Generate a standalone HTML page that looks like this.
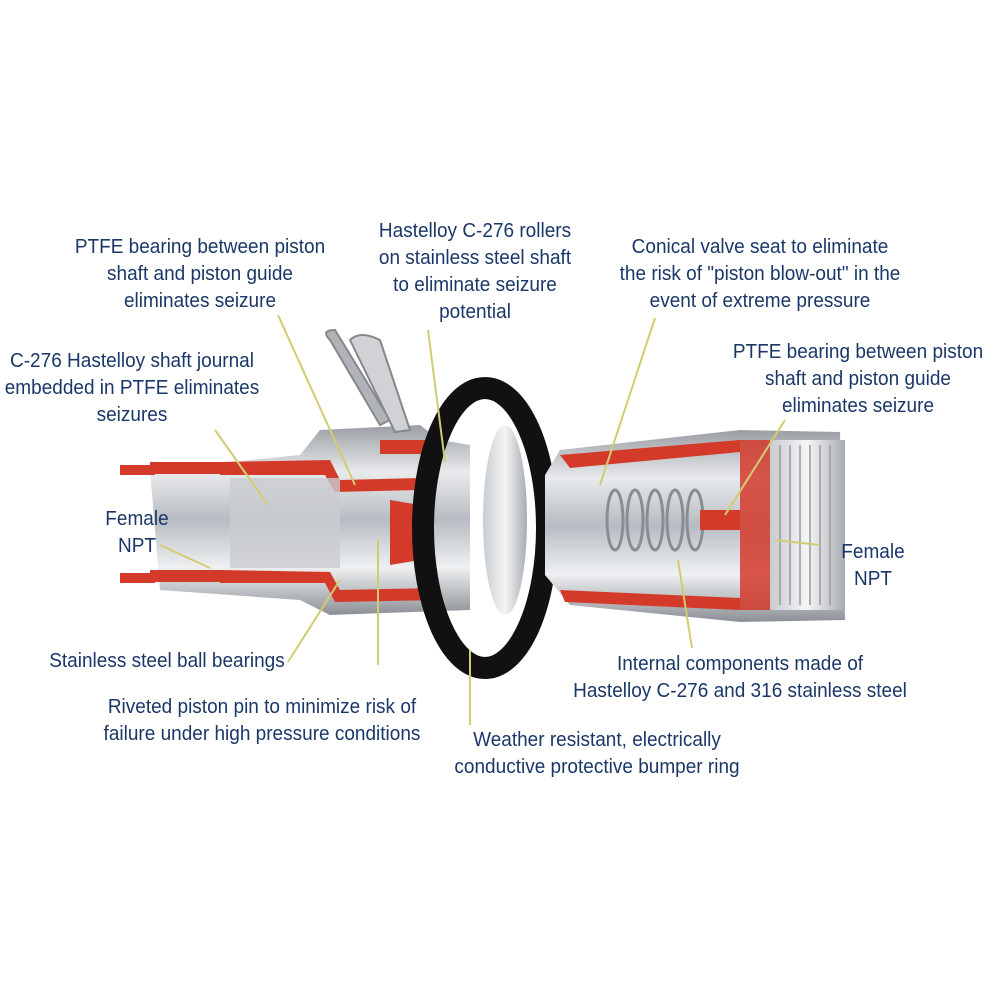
<!DOCTYPE html>
<html><head><meta charset="utf-8"><style>
html,body{margin:0;padding:0;background:#fff;}
#c{position:relative;width:1000px;height:1000px;overflow:hidden;font-family:"Liberation Sans",Arial,sans-serif;}
.t{position:absolute;color:#1b3768;font-size:20px;line-height:27px;text-align:center;white-space:nowrap;transform:scaleX(0.95);}
svg{position:absolute;left:0;top:0;}
</style></head><body><div id="c">
<svg width="1000" height="1000" viewBox="0 0 1000 1000">
<defs>
<linearGradient id="m" x1="0" y1="0" x2="0" y2="1">
<stop offset="0" stop-color="#9a9ea4"/><stop offset="0.25" stop-color="#e8eaec"/><stop offset="0.5" stop-color="#b8bcc2"/><stop offset="0.75" stop-color="#eef0f2"/><stop offset="1" stop-color="#8c9096"/></linearGradient>
<linearGradient id="m2" x1="0" y1="0" x2="1" y2="0">
<stop offset="0" stop-color="#c8ccd0"/><stop offset="0.5" stop-color="#f4f5f6"/><stop offset="1" stop-color="#a8acb2"/></linearGradient>
</defs>
<path d="M150,470 L300,455 L320,430 L420,425 L440,440 L470,445 L470,610 L330,615 L300,600 L160,590 Z" fill="url(#m)"/>
<rect x="150" y="462" width="70" height="12" fill="#d43a2a"/>
<rect x="150" y="570" width="70" height="12" fill="#d43a2a"/>
<path d="M220,462 L330,460 L340,480 L420,478 L420,490 L335,492 L325,475 L220,475Z" fill="#d43a2a"/>
<path d="M220,570 L330,572 L340,590 L440,588 L440,600 L335,602 L325,583 L220,583Z" fill="#d43a2a"/>
<path d="M390,500 L420,505 L420,560 L390,565Z" fill="#d43a2a"/>
<rect x="380" y="440" width="60" height="14" fill="#d43a2a"/>
<rect x="230" y="478" width="110" height="90" fill="#c9ccd0" opacity="0.8"/>
<path d="M330,340 Q320,330 335,330 L390,420 L380,425 Z" fill="#b0b4b8" stroke="#888" stroke-width="2"/>
<path d="M350,340 Q360,330 380,340 L410,430 L395,432 Z" fill="#d0d2d6" stroke="#888" stroke-width="2"/>
<rect x="120" y="465" width="35" height="10" fill="#d43a2a"/>
<rect x="120" y="573" width="35" height="10" fill="#d43a2a"/>
<ellipse cx="505" cy="520" rx="22" ry="95" fill="url(#m2)"/>
<ellipse cx="485" cy="528" rx="62" ry="140" fill="none" stroke="#111" stroke-width="22"/>
<path d="M560,450 L740,430 L840,432 L845,620 L740,622 L570,605 L545,575 L545,475 Z" fill="url(#m)"/>
<path d="M560,455 L740,440 L740,452 L570,468Z" fill="#d43a2a"/>
<path d="M560,590 L740,598 L740,610 L565,602Z" fill="#d43a2a"/>
<rect x="740" y="440" width="30" height="170" fill="#d43a2a" opacity="0.85"/>
<rect x="770" y="440" width="75" height="170" fill="url(#m2)"/>
<g stroke="#999" stroke-width="1.5">
<line x1="780" y1="445" x2="780" y2="605"/><line x1="790" y1="445" x2="790" y2="605"/><line x1="800" y1="445" x2="800" y2="605"/><line x1="810" y1="445" x2="810" y2="605"/><line x1="820" y1="445" x2="820" y2="605"/><line x1="830" y1="445" x2="830" y2="605"/></g>
<g fill="none" stroke="#8a8e94" stroke-width="3">
<ellipse cx="615" cy="520" rx="8" ry="30"/><ellipse cx="635" cy="520" rx="8" ry="30"/><ellipse cx="655" cy="520" rx="8" ry="30"/><ellipse cx="675" cy="520" rx="8" ry="30"/><ellipse cx="695" cy="520" rx="8" ry="30"/></g>
<rect x="700" y="510" width="40" height="20" fill="#d43a2a"/>
<g stroke="#d2cc70" stroke-width="2" fill="none">
<line x1="278" y1="315" x2="355" y2="485"/>
<line x1="428" y1="330" x2="445" y2="462"/>
<line x1="655" y1="318" x2="600" y2="485"/>
<line x1="215" y1="430" x2="268" y2="505"/>
<line x1="785" y1="420" x2="725" y2="515"/>
<line x1="160" y1="545" x2="210" y2="568"/>
<line x1="820" y1="545" x2="775" y2="540"/>
<line x1="288" y1="662" x2="340" y2="580"/>
<line x1="378" y1="665" x2="378" y2="540"/>
<line x1="470" y1="725" x2="470" y2="650"/>
<line x1="692" y1="648" x2="678" y2="560"/>
</g>
</svg>
<div class="t" style="left:25px;top:234px;width:350px">PTFE bearing between piston<br>shaft and piston guide<br>eliminates seizure</div>
<div class="t" style="left:300px;top:218px;width:350px">Hastelloy C-276 rollers<br>on stainless steel shaft<br>to eliminate seizure<br>potential</div>
<div class="t" style="left:570px;top:234px;width:380px">Conical valve seat to eliminate<br>the risk of "piston blow-out" in the<br>event of extreme pressure</div>
<div class="t" style="left:-43px;top:348px;width:350px">C-276 Hastelloy shaft journal<br>embedded in PTFE eliminates<br>seizures</div>
<div class="t" style="left:683px;top:339px;width:350px">PTFE bearing between piston<br>shaft and piston guide<br>eliminates seizure</div>
<div class="t" style="left:87px;top:506px;width:100px">Female<br>NPT</div>
<div class="t" style="left:823px;top:539px;width:100px">Female<br>NPT</div>
<div class="t" style="left:-8px;top:648px;width:350px">Stainless steel ball bearings</div>
<div class="t" style="left:530px;top:651px;width:420px">Internal components made of<br>Hastelloy C-276 and 316 stainless steel</div>
<div class="t" style="left:57px;top:694px;width:410px">Riveted piston pin to minimize risk of<br>failure under high pressure conditions</div>
<div class="t" style="left:402px;top:727px;width:390px">Weather resistant, electrically<br>conductive protective bumper ring</div>
</div></body></html>
